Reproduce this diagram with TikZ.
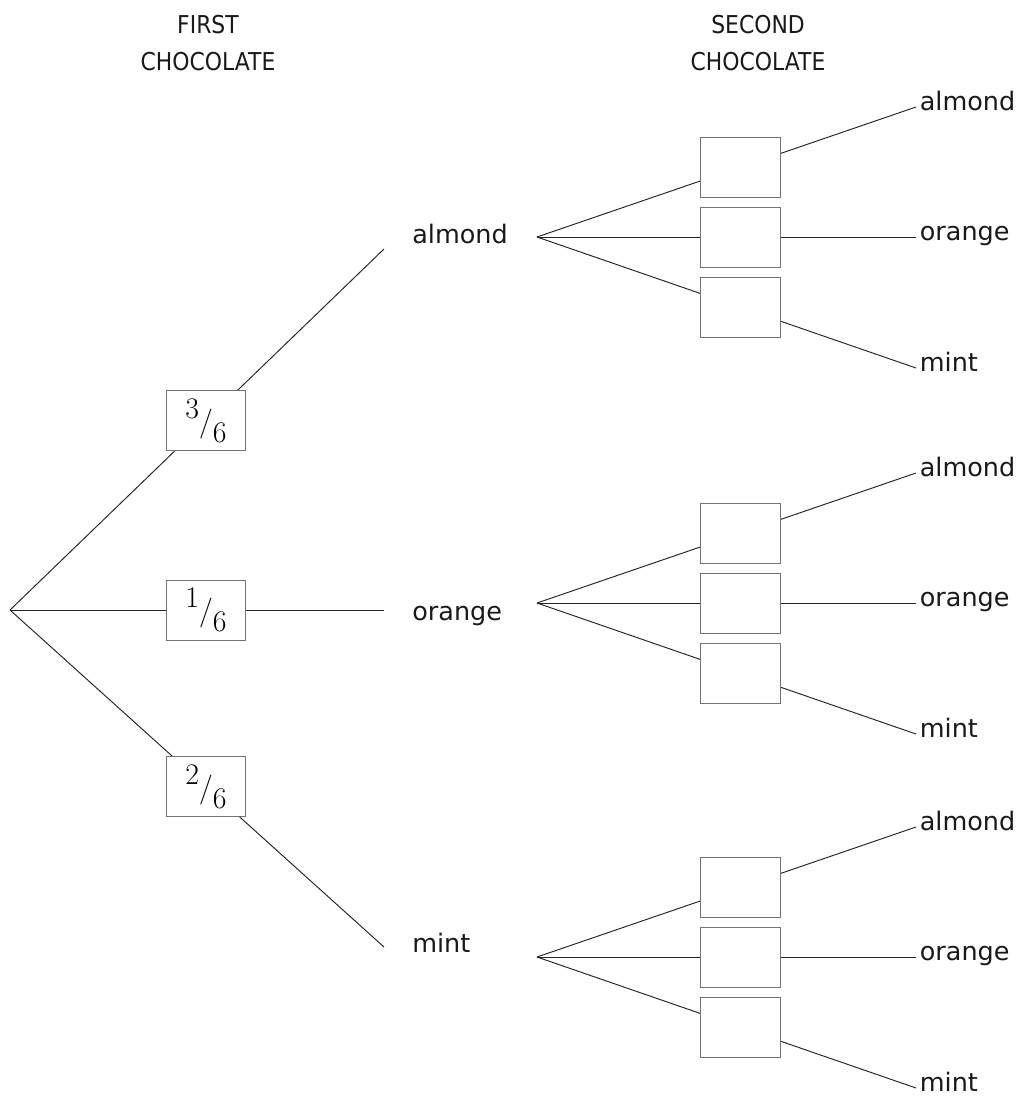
\documentclass[tikz,border=0pt]{standalone}
\usepackage{fontspec}
\newfontfamily\labelfont{DejaVu Sans}
\newfontfamily\headfont[FakeStretch=0.89]{DejaVu Sans}
\newcommand{\slfrac}[2]{\raisebox{0.8em}{#1}\raisebox{0.36em}{/}#2}
\tikzset{
  branch/.style={draw=black!85, line width=0.55pt},
  fracbox/.style={draw=black!55, fill=white, line width=0.55pt, minimum width=1.6cm,
    minimum height=1.2cm, inner sep=0pt, pos=0.524, font=\fontsize{17}{17}\selectfont},
  emptybox/.style={draw=black!55, fill=white, line width=0.55pt, minimum width=1.6cm,
    minimum height=1.2cm, inner sep=0pt, pos=0.538},
  flavour/.style={font=\labelfont\fontsize{14.5}{17}\selectfont, text=black!90, inner sep=0pt},
  outcome/.style={flavour, anchor=west, text height=1ex, text depth=0pt, inner xsep=2pt},
  heading/.style={font=\headfont\fontsize{14}{21}\selectfont, text=black!90, align=center,
    inner sep=0pt, anchor=north}
}
\begin{document}
\begin{tikzpicture}[x=0.02cm, y=-0.02cm]
            \useasboundingbox (0,0) rectangle (1026,1100);

            \node[heading] (first) at (208,15) {FIRST\\CHOCOLATE};
            \node[heading] (second) at (758,15) {SECOND\\CHOCOLATE};

            \begin{scope}[every node/.style={flavour, anchor=base west}]
                \coordinate (rt) at (10,610);
                \coordinate (eA) at (384,249);
                \coordinate (eO) at (384,610);
                \coordinate (eM) at (384,947);

                \node (A) at (412,243) {almond};
                \node (O) at (412,620) {orange};
                \node (M) at (412,952) {mint};

                \coordinate (sA) at (537,237);
                \coordinate (sO) at (537,603);
                \coordinate (sM) at (537,957);
            \end{scope}

            \begin{scope}[every node/.style={outcome}]
                \node (AA) at (916,107) {almond};
                \node (AO) at (916,237) {orange};
                \node (AM) at (916,368) {mint};

                \node (OA) at (916,473) {almond};
                \node (OO) at (916,603) {orange};
                \node (OM) at (916,734) {mint};

                \node (MA) at (916,827) {almond};
                \node (MO) at (916,957) {orange};
                \node (MM) at (916,1088) {mint};
            \end{scope}

            \begin{scope}
                \path [branch] (rt) edge node[fracbox] {\slfrac{3}{6}} (eA);
                \path [branch] (rt) edge node[fracbox] {\slfrac{1}{6}} (eO);
                \path [branch] (rt) edge node[fracbox] {\slfrac{2}{6}} (eM);

                \path [branch] (sA) edge node[emptybox] {} (AA.west);
                \path [branch] (sA) edge node[emptybox] {} (AO.west);
                \path [branch] (sA) edge node[emptybox] {} (AM.west);

                \path [branch] (sO) edge node[emptybox] {} (OA.west);
                \path [branch] (sO) edge node[emptybox] {} (OO.west);
                \path [branch] (sO) edge node[emptybox] {} (OM.west);

                \path [branch] (sM) edge node[emptybox] {} (MA.west);
                \path [branch] (sM) edge node[emptybox] {} (MO.west);
                \path [branch] (sM) edge node[emptybox] {} (MM.west);
            \end{scope}
            \end{tikzpicture}
\end{document}
